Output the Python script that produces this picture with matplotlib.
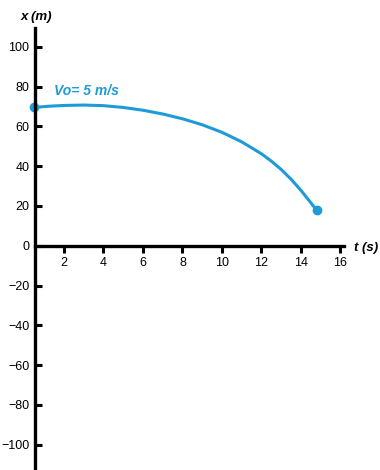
import matplotlib
matplotlib.use("Agg")
import matplotlib.pyplot as plt

plt.rcParams["font.family"] = ["Liberation Sans", "DejaVu Sans"]

# curve
t_vals = [0.5, 1.2, 2.0, 3.0, 4.0, 5.0, 6.0, 7.0, 8.0, 9.0, 10.0,
          11.0, 12.0, 12.5, 13.0, 13.5, 14.0, 14.4, 14.8]
x_vals = [69.5, 70.1, 70.5, 70.7, 70.4, 69.5, 68.1, 66.2, 63.8, 60.8, 57.0,
          52.2, 46.2, 42.5, 38.3, 33.4, 27.8, 22.8, 17.8]

x_ticks = [2, 4, 6, 8, 10, 12, 14, 16]
y_ticks = [-100, -80, -60, -40, -20, 0, 20, 40, 60, 80, 100]

label_text = "Vo= 5 m/s"
blue = "#1e9bd7"

fig = plt.figure(figsize=(3.8, 4.7), dpi=100)
ax = fig.add_axes([0, 0, 1, 1])
ax.set_xlim(-1.24, 18.0)
ax.set_ylim(-112.7, 123.5)

ax.plot(t_vals, x_vals, color=blue, lw=2.2, solid_capstyle="round",
        solid_joinstyle="round")
ax.plot([t_vals[0], t_vals[-1]], [x_vals[0], x_vals[-1]], "o", color=blue, ms=6)

for s in ["top", "right"]:
    ax.spines[s].set_visible(False)
ax.spines["left"].set_position(("data", 0.53))
ax.spines["left"].set_bounds(-111.7, 109.4)
ax.spines["bottom"].set_position(("data", 0))
ax.spines["bottom"].set_bounds(0.53, 16.2)
for s in ["left", "bottom"]:
    ax.spines[s].set_linewidth(2.4)

ax.set_xticks(x_ticks)
ax.set_yticks(y_ticks)
ax.tick_params(axis="y", direction="in", length=5, width=2.2, labelsize=9, pad=4)
ax.tick_params(axis="x", direction="out", length=5, width=2.2, labelsize=9, pad=3)

ax.text(-0.2, 115, "x (m)", fontsize=9.5, fontweight="bold", fontstyle="italic",
        ha="left", va="center")
ax.text(16.7, -1, "t (s)", fontsize=9.5, fontweight="bold", fontstyle="italic",
        ha="left", va="center")
ax.text(1.5, 78, label_text, fontsize=10, fontweight="bold", fontstyle="italic",
        color=blue, ha="left", va="center")

fig.savefig("out.png", dpi=100)
